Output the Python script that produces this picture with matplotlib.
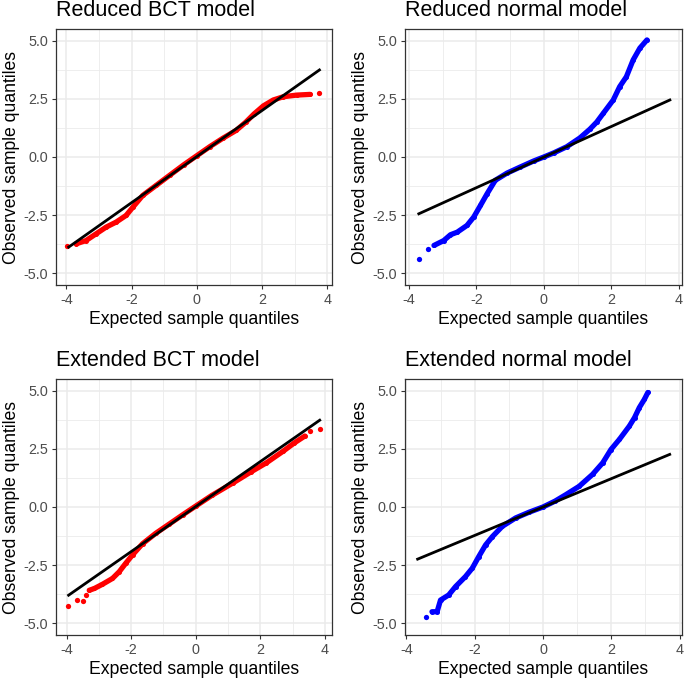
import matplotlib
matplotlib.use("Agg")
import matplotlib.pyplot as plt
from matplotlib.ticker import FixedLocator

plt.rcParams['font.family'] = ['Liberation Sans', 'DejaVu Sans']

# ---------------- data ----------------
titles = ["Reduced BCT model", "Reduced normal model",
          "Extended BCT model", "Extended normal model"]
colors = ["#FF0000", "#0000FF", "#FF0000", "#0000FF"]

# Reduced BCT model
rb_x = [-3.70, -3.40, -3.09, -2.78, -2.48, -2.17, -1.96, -1.66, -1.25, -0.84,
        -0.40, 0.00, 0.40, 0.80, 1.20, 1.50, 1.75, 2.04, 2.34, 2.65, 3.06, 3.47]
rb_y = [-3.73, -3.59, -3.30, -3.01, -2.80, -2.51, -2.15, -1.65, -1.22, -0.79,
        -0.33, 0.06, 0.45, 0.81, 1.14, 1.50, 1.85, 2.20, 2.45, 2.59, 2.66, 2.69]
rb_out_x = [-3.98, 3.755]
rb_out_y = [-3.81, 2.74]
rb_line_x = [-3.93, 3.755]
rb_line_y = [-3.87, 3.74]

# Reduced normal model
rn_x = [-3.26, -2.97, -2.77, -2.57, -2.28, -2.08, -1.88, -1.68, -1.44, -1.09,
        -0.70, -0.30, 0.00, 0.30, 0.68, 1.07, 1.37, 1.57, 1.76, 2.06, 2.25,
        2.45, 2.65, 2.85, 3.06]
rn_y = [-3.80, -3.59, -3.34, -3.23, -2.94, -2.58, -2.08, -1.57, -1.00, -0.69,
        -0.43, -0.17, 0.00, 0.18, 0.44, 0.82, 1.20, 1.50, 1.87, 2.45, 3.02,
        3.45, 4.17, 4.68, 5.03]
rn_out_x = [-3.71, -3.43]
rn_out_y = [-4.40, -3.95]
rn_line_x = [-3.71, 3.74]
rn_line_y = [-2.44, 2.45]

# Extended BCT model
eb_x = [-3.30, -3.14, -2.89, -2.58, -2.37, -2.17, -1.96, -1.65, -1.24, -0.83,
        -0.40, 0.00, 0.50, 1.16, 1.70, 2.19, 2.71, 3.05, 3.38]
eb_y = [-3.58, -3.50, -3.32, -3.07, -2.78, -2.42, -2.06, -1.58, -1.13, -0.74,
        -0.33, 0.04, 0.50, 1.04, 1.50, 1.90, 2.40, 2.75, 3.05]
eb_out_x = [-3.97, -3.69, -3.50, -3.40, 3.53, 3.84]
eb_out_y = [-4.25, -4.01, -4.04, -3.79, 3.27, 3.37]
eb_line_x = [-3.94, 3.84]
eb_line_y = [-3.79, 3.73]

# Extended normal model
en_x = [-3.25, -3.10, -3.00, -2.76, -2.56, -2.27, -2.07, -1.88, -1.68, -1.48,
        -1.19, -0.80, -0.40, 0.00, 0.35, 0.67, 1.06, 1.45, 1.75, 1.99, 2.24,
        2.53, 2.68, 2.82, 2.97, 3.07]
en_y = [-4.50, -4.50, -4.00, -3.78, -3.42, -2.99, -2.63, -2.13, -1.63, -1.27,
        -0.83, -0.47, -0.22, 0.00, 0.25, 0.53, 0.89, 1.40, 1.90, 2.47, 2.91,
        3.48, 3.84, 4.27, 4.63, 4.92]
en_out_x = [-3.42]
en_out_y = [-4.72]
en_line_x = [-3.67, 3.71]
en_line_y = [-2.24, 2.26]

x_major = [-4, -2, 0, 2, 4]
x_minor = [-3, -1, 1, 3]
y_major = [-5.0, -2.5, 0.0, 2.5, 5.0]
y_minor = [-3.75, -1.25, 1.25, 3.75]
y_ticklabels = ["-5.0", "-2.5", "0.0", "2.5", "5.0"]
x_ticklabels = ["-4", "-2", "0", "2", "4"]

panels = [
    (rb_x, rb_y, rb_out_x, rb_out_y, rb_line_x, rb_line_y),
    (rn_x, rn_y, rn_out_x, rn_out_y, rn_line_x, rn_line_y),
    (eb_x, eb_y, eb_out_x, eb_out_y, eb_line_x, eb_line_y),
    (en_x, en_y, en_out_x, en_out_y, en_line_x, en_line_y),
]

# ---------------- layout ----------------
W, H = 685, 682
fig = plt.figure(figsize=(W / 100, H / 100), dpi=100)

boxes = [(56, 332, 29, 285), (405, 682, 29, 285),
         (56, 332, 379, 635), (405, 682, 379, 635)]
xlims = [(-4.32, 4.14), (-4.12, 4.10), (-4.33, 4.22), (-4.04, 4.07)]

for i, (box, data) in enumerate(zip(boxes, panels)):
    l, r, t, b = box
    ax = fig.add_axes([l / W, 1 - b / H, (r - l) / W, (b - t) / H])
    px, py, ox, oy, lx, ly = data
    c = colors[i]

    ax.set_xlim(*xlims[i])
    ax.set_ylim(-5.5, 5.5)

    ax.plot(px, py, color=c, lw=3.8, solid_capstyle='round',
            solid_joinstyle='round', zorder=3)
    ax.plot(px, py, 'o', color=c, ms=3.6, mew=0, zorder=3)
    ax.plot(ox, oy, 'o', color=c, ms=3.8, mew=0, zorder=3)
    ax.plot(lx, ly, color='black', lw=2.0, zorder=4)

    ax.xaxis.set_major_locator(FixedLocator(x_major))
    ax.xaxis.set_minor_locator(FixedLocator(x_minor))
    ax.yaxis.set_major_locator(FixedLocator(y_major))
    ax.yaxis.set_minor_locator(FixedLocator(y_minor))
    ax.set_xticklabels(x_ticklabels)
    ax.set_yticklabels(y_ticklabels)

    ax.grid(which='major', color='#EBEBEB', lw=1.1, zorder=0)
    ax.grid(which='minor', color='#EBEBEB', lw=0.6, zorder=0)
    ax.set_axisbelow(True)
    ax.tick_params(which='major', length=3, width=0.8, color='#333333',
                   labelsize=10.4, labelcolor='#4D4D4D', pad=2.5)
    ax.tick_params(which='minor', length=0)
    for s in ax.spines.values():
        s.set_color('#333333')
        s.set_linewidth(0.9)

    ax.set_xlabel("Expected sample quantiles", fontsize=12.7, labelpad=3,
                  color='black')
    ax.set_ylabel("Observed sample quantiles", fontsize=12.7, labelpad=3,
                  color='black')
    ax.set_title(titles[i], loc='left', fontsize=15.5, pad=9, color='black')

fig.savefig("out.png", dpi=100)
